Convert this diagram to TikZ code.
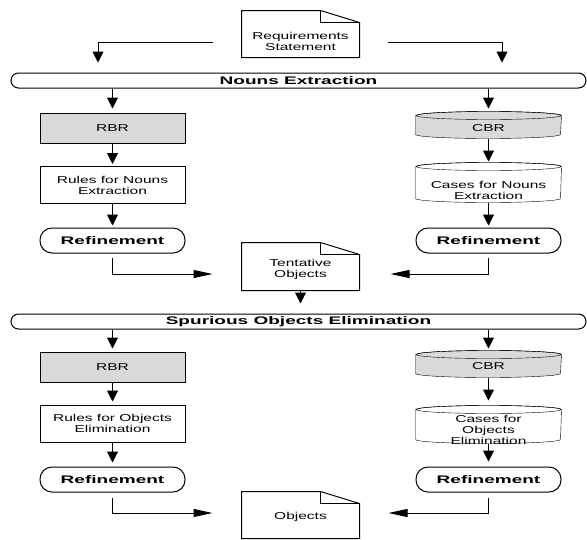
\documentclass[tikz,border=0pt]{standalone}
\usepackage{fontspec}
\newfontfamily\diagfont{Liberation Sans}[FakeStretch=1.55]
\newfontfamily\diagbold{Liberation Sans}[FakeStretch=1.73]
\usetikzlibrary{arrows.meta,backgrounds}
\newcommand{\boxcolor}{gray!30}
\newcommand{\rx}{72.5pt}
\newcommand{\ry}{4pt}
\tikzset{
  txt/.style={font=\diagfont\fontsize{10}{11}\selectfont, align=center, inner sep=0pt},
  bold/.style={font=\diagbold\bfseries\fontsize{11}{13}\selectfont, inner sep=0pt},
  rbrbox/.style={txt, draw, fill=\boxcolor, minimum width=145, minimum height=30},
  rulebox/.style={txt, draw, minimum width=145, minimum height=37},
  store/.style={inner sep=0pt, minimum width=145},
  doc/.style={inner sep=0pt, minimum width=117, minimum height=46},
  refine/.style={bold, draw, rounded corners=12pt, minimum width=145, minimum height=25},
  band/.style={bold, draw, rounded corners=7.5pt, minimum width=575, minimum height=15},
  darrow/.style={-{Triangle[length=11pt,width=11pt]}},
  harrow/.style={-{Triangle[length=19pt,width=8pt]}},
}

\begin{document}
\begin{tikzpicture}[x=1pt, y=-1pt, line width=1pt]
\useasboundingbox (0,0) rectangle (587,539);
% nouns extraction
\node[doc] (req) at (300.5, 34) [label={[txt,yshift=-7.5pt]center:Requirements\\Statement}] {};
\node[band] (ext) at (298.5, 80.5) {Nouns Extraction};
\node[rbrbox] (rbr1) at (112.5, 128) {RBR};
\node[rulebox] (rules1) at (112.5, 185) {Rules for Nouns\\Extraction};
\node[refine] (refl1) at (112.5, 240.5) {Refinement};
\node[store, minimum height=26] (cbr1) at (488.5, 125) [label={[txt,yshift=-3pt]center:CBR}] {};
\node[store, minimum height=39] (cases1) at (488.5, 182.5) [label={[txt,yshift=-7.5pt]center:Cases for Nouns\\Extraction}] {};
\node[refine] (refr1) at (488.5, 240.5) {Refinement};
\node[doc, minimum height=47] (tent) at (300.5, 266.5) [label={[txt,yshift=-2.5pt]center:Tentative\\Objects}] {};
% spurious objects elimination
\node[band] (spur) at (298.5, 321.5) {Spurious Objects Elimination};
\node[rbrbox] (rbr2) at (112.5, 367) {RBR};
\node[rulebox] (rules2) at (112.5, 423.5) {Rules for Objects\\Elimination};
\node[refine] (refl2) at (112.5, 479.5) {Refinement};
\node[store, minimum height=26] (cbr2) at (488.5, 364) [label={[txt,yshift=-2pt]center:CBR}] {};
\node[store, minimum height=37] (cases2) at (488.5, 424.5) [label={[txt,yshift=-5pt]center:Cases for\\Objects\\Elimination}] {};
\node[refine] (refr2) at (488.5, 479.5) {Refinement};
\node[doc] (obj) at (300.5, 515) [label={[txt,yshift=-2pt]center:Objects}] {};
%documents
\draw (req.north west) -- ([xshift=-39pt]req.north east) -- ([yshift=-12pt]req.north east) -- (req.south east) -- (req.south west) -- cycle;
\draw[line width=1.4pt] ([xshift=-39pt]req.north east) -- ([xshift=-39pt,yshift=-12pt]req.north east) -- ([yshift=-12pt]req.north east);
\draw (tent.north west) -- ([xshift=-39pt]tent.north east) -- ([yshift=-12pt]tent.north east) -- (tent.south east) -- (tent.south west) -- cycle;
\draw[line width=1.4pt] ([xshift=-39pt]tent.north east) -- ([xshift=-39pt,yshift=-12pt]tent.north east) -- ([yshift=-12pt]tent.north east);
\draw (obj.north west) -- ([xshift=-39pt]obj.north east) -- ([yshift=-12pt]obj.north east) -- (obj.south east) -- (obj.south west) -- cycle;
\draw[line width=1.4pt] ([xshift=-39pt]obj.north east) -- ([xshift=-39pt,yshift=-12pt]obj.north east) -- ([yshift=-12pt]obj.north east);
%cylinders
\begin{scope}[on background layer]
\filldraw[fill=\boxcolor] ([yshift=-\ry]cbr1.north west) -- ([yshift=\ry]cbr1.south west) arc (180:360:{\rx} and {\ry}) -- ([yshift=-\ry]cbr1.north east) arc (0:180:{\rx} and {\ry}) -- cycle;
\draw ([yshift=-\ry]cbr1.north) ellipse ({\rx} and {\ry});
\filldraw[fill=white] ([yshift=-\ry]cases1.north west) -- ([yshift=\ry]cases1.south west) arc (180:360:{\rx} and {\ry}) -- ([yshift=-\ry]cases1.north east) arc (0:180:{\rx} and {\ry}) -- cycle;
\draw ([yshift=-\ry]cases1.north) ellipse ({\rx} and {\ry});
\filldraw[fill=\boxcolor] ([yshift=-\ry]cbr2.north west) -- ([yshift=\ry]cbr2.south west) arc (180:360:{\rx} and {\ry}) -- ([yshift=-\ry]cbr2.north east) arc (0:180:{\rx} and {\ry}) -- cycle;
\draw ([yshift=-\ry]cbr2.north) ellipse ({\rx} and {\ry});
\filldraw[fill=white] ([yshift=-\ry]cases2.north west) -- ([yshift=\ry]cases2.south west) arc (180:360:{\rx} and {\ry}) -- ([yshift=-\ry]cases2.north east) arc (0:180:{\rx} and {\ry}) -- cycle;
\draw ([yshift=-\ry]cases2.north) ellipse ({\rx} and {\ry});
\end{scope}
%arrows 1
\draw[darrow, shorten >=10pt] ([xshift=-29pt,yshift=-8pt]req.west) -| ([xshift=-14.5pt]ext.north -| rbr1.north);
\draw[darrow, shorten >=10pt] ([xshift=28pt,yshift=-8pt]req.east) -| ([xshift=13.5pt]ext.north -| cbr1.north);
\draw[darrow, shorten >=4pt] (ext.south -| rbr1.north) -- (rbr1.north);
\draw[darrow, shorten >=2pt] (rbr1) -- (rules1);
\draw[darrow, shorten >=2pt] (rules1) -- (refl1);
\draw[darrow, shorten >=3pt] (ext.south -| cbr1.north) -- (cbr1.north);
\draw[darrow, shorten >=1pt] (cbr1.south) -- (cases1.north);
\draw[darrow, shorten >=2pt] (cases1.south) -- (refr1.north);
\draw[harrow, shorten <=4pt, shorten >=29pt] (refl1.south) |- ([yshift=-7.5pt]tent.west);
\draw[harrow, shorten <=4pt, shorten >=31pt] (refr1.south) |- ([yshift=-7.5pt]tent.east);
\draw[darrow, shorten >=10pt] (tent.south) -- (spur.north -| tent.south);
%arrows 2
\draw[darrow, shorten >=3pt] (spur.south -| rbr2.north) -- (rbr2.north);
\draw[darrow, shorten >=3pt] (rbr2) -- (rules2);
\draw[darrow, shorten >=4pt] (rules2) -- (refl2);
\draw[darrow, shorten >=2pt] (spur.south -| cbr2.north) -- (cbr2.north);
\draw[darrow, shorten >=5pt] (cbr2.south) -- (cases2.north);
\draw[darrow, shorten >=5pt] (cases2.south) -- (refr2.north);
\draw[harrow, shorten <=5pt, shorten >=29pt] (refl2.south) |- ([yshift=2pt]obj.west);
\draw[harrow, shorten <=5pt, shorten >=29pt] (refr2.south) |- ([yshift=2pt]obj.east);
\end{tikzpicture}
\end{document}
